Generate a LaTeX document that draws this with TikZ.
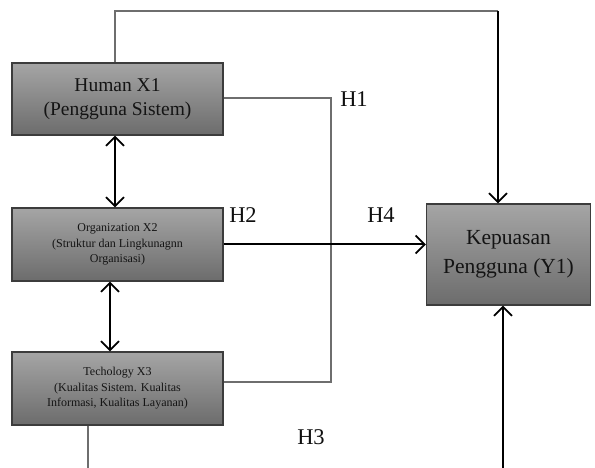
\documentclass[tikz,border=0pt]{standalone}
\usepackage{fontspec}
\setmainfont{Liberation Serif}
\usetikzlibrary{arrows.meta,positioning,calc}

\tikzset{
  box/.style={draw={rgb,255:red,60;green,60;blue,60}, line width=1.2pt, top color={rgb,255:red,165;green,165;blue,165}, bottom color={rgb,255:red,108;green,108;blue,108}, align=center, inner sep=0pt, text={rgb,255:red,20;green,20;blue,20}},
  grayline/.style={draw={rgb,255:red,110;green,110;blue,110}, line width=1.5pt},
  arr/.style={draw=black, line width=2pt, -{Straight Barb[length=9pt,width=18pt,line width=1.7pt]}},
  dblarr/.style={draw=black, line width=2pt, {Straight Barb[length=9pt,width=18pt,line width=1.7pt]}-{Straight Barb[length=9pt,width=18pt,line width=1.7pt]}},
  hlabel/.style={font=\fontsize{22.5}{26}\selectfont, text={rgb,255:red,15;green,15;blue,15}}
}

\begin{document}
\begin{tikzpicture}[x=1pt,y=-1pt]
\useasboundingbox (0,0) rectangle (595,468);
% boxes
\node[box, minimum width=211pt, minimum height=72pt, font=\fontsize{19.5}{24}\selectfont] (human) at (117.5,99) {Human X1\\(Pengguna Sistem)};
\node[box, minimum width=211pt, minimum height=73pt, font=\fontsize{12}{15.5}\selectfont] (org) at (117.5,244.5) {Organization X2\\(Struktur dan Lingkunagnn\\Organisasi)};
\node[box, minimum width=211pt, minimum height=73pt, font=\fontsize{12}{15.5}\selectfont] (tech) at (117.5,388.5) {Techology X3\\(Kualitas Sistem. Kualitas\\Informasi, Kualitas Layanan)};
\node[box, minimum width=164pt, minimum height=101pt, font=\fontsize{21.5}{29}\selectfont] (kep) at (508.5,254.5) {Kepuasan\\Pengguna (Y1)};
% labels
\node[hlabel] (h1) at (354,99) {H1};
\node[hlabel] (h2) at (243,215) {H2};
\node[hlabel] (h4) at (381,215) {H4};
\node[hlabel] (h3) at (311,437) {H3};
% helper points
\coordinate (top) at (498,11);
\coordinate (h1c) at (331,98);
\coordinate (bot1) at (88,468);
\coordinate (bot2) at (503,468);
% connectors
\draw[grayline] ([xshift=-2.5pt]human.north) |- (top);
\draw[arr] (top) -- (top |- kep.north);
\draw[grayline] ([yshift=1pt]human.east) -- (h1c) |- ([yshift=6.5pt]tech.east);
\draw[dblarr] ([xshift=-2.5pt]human.south) -- ([xshift=-2.5pt]org.north);
\draw[dblarr] ([xshift=-7.5pt]org.south) -- ([xshift=-7.5pt]tech.north);
\draw[arr] (org.east) -- (org.east -| kep.west);
\draw[grayline] (bot1 |- tech.south) -- (bot1);
\draw[arr] (bot2) -- (bot2 |- kep.south);
\end{tikzpicture}
\end{document}
